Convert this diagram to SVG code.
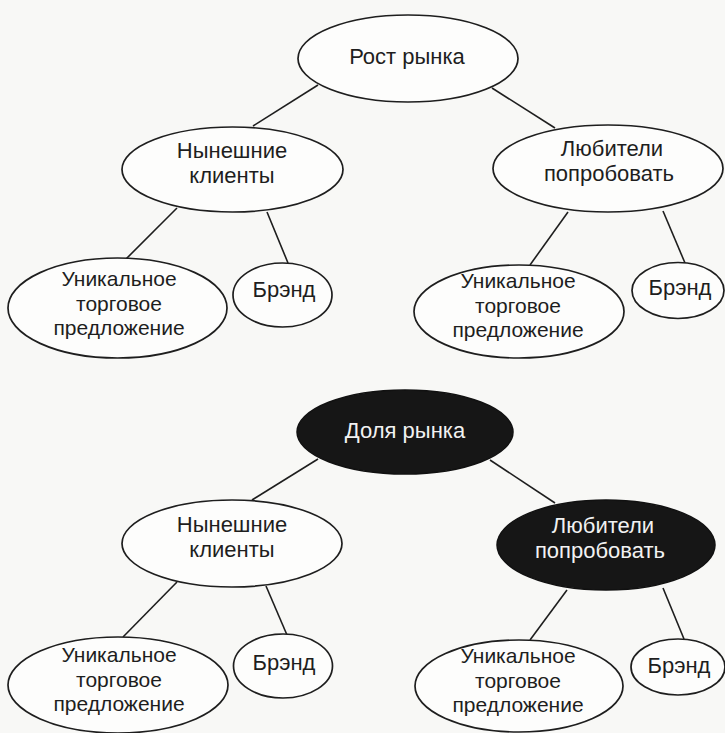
<svg xmlns="http://www.w3.org/2000/svg" width="725" height="733" viewBox="0 0 725 733">
<style>
.bg{fill:#f8f8f6}
.n{fill:#fdfdfc;stroke:#1e1e1e;stroke-width:1.7}
.d{fill:#161616;stroke:#111;stroke-width:1.5}
.t{font-family:"Liberation Sans",Arial,sans-serif;font-size:22px;fill:#1e1e1e;text-anchor:middle}
.s{font-size:21px}
.w{fill:#f2f2f2}
.c line{stroke:#1e1e1e;stroke-width:1.6}
</style>
<rect class="bg" x="0" y="0" width="725" height="733"/>
<g class="c" id="connectors">
<line x1="318" y1="85" x2="253" y2="126"/>
<line x1="492" y1="88" x2="555" y2="128"/>
<line x1="177" y1="208" x2="123" y2="262"/>
<line x1="267" y1="212" x2="288" y2="263"/>
<line x1="568" y1="212" x2="530" y2="265"/>
<line x1="663" y1="211" x2="685" y2="263"/>
<line x1="318" y1="459" x2="252" y2="500"/>
<line x1="490" y1="460" x2="555" y2="503"/>
<line x1="177" y1="582" x2="123" y2="637"/>
<line x1="266" y1="586" x2="287" y2="635"/>
<line x1="567" y1="590" x2="530" y2="640"/>
<line x1="663" y1="588" x2="684" y2="639"/>
</g>
<g id="rost">
<ellipse class="n" cx="408" cy="58.5" rx="110" ry="43.5"/>
<text class="t" x="407" y="64">Рост рынка</text>
</g>
<g id="clients1">
<ellipse class="n" cx="232.5" cy="169.5" rx="110.5" ry="42.5"/>
<text class="t" x="232" y="158">Нынешние</text>
<text class="t" x="232" y="183">клиенты</text>
</g>
<g id="triers1">
<ellipse class="n" cx="608" cy="168.5" rx="115" ry="43.5"/>
<text class="t" x="612" y="156">Любители</text>
<text class="t" x="609" y="181">попробовать</text>
</g>
<g id="usp1">
<ellipse class="n" cx="117.5" cy="308" rx="109.5" ry="50"/>
<text class="t s" x="119" y="286">Уникальное</text>
<text class="t s" x="119" y="310.5">торговое</text>
<text class="t s" x="119" y="335">предложение</text>
</g>
<g id="brand1">
<ellipse class="n" cx="282.5" cy="295" rx="49.5" ry="32"/>
<text class="t" x="284" y="297">Брэнд</text>
</g>
<g id="usp2">
<ellipse class="n" cx="519" cy="311.5" rx="105" ry="46.5"/>
<text class="t s" x="518" y="288">Уникальное</text>
<text class="t s" x="518" y="312.5">торговое</text>
<text class="t s" x="518" y="337">предложение</text>
</g>
<g id="brand2">
<ellipse class="n" cx="678" cy="290.5" rx="46" ry="28"/>
<text class="t" x="680" y="295">Брэнд</text>
</g>
<g id="share">
<ellipse class="d" cx="405" cy="432" rx="108" ry="42"/>
<text class="t w" x="405" y="438">Доля рынка</text>
</g>
<g id="clients2">
<ellipse class="n" cx="232" cy="543.5" rx="110" ry="43.5"/>
<text class="t" x="232" y="532">Нынешние</text>
<text class="t" x="232" y="557">клиенты</text>
</g>
<g id="triers2">
<ellipse class="d" cx="606" cy="545" rx="109" ry="45"/>
<text class="t w" x="603" y="533">Любители</text>
<text class="t w" x="600" y="558">попробовать</text>
</g>
<g id="usp3">
<ellipse class="n" cx="118" cy="685" rx="110" ry="48"/>
<text class="t s" x="119" y="662">Уникальное</text>
<text class="t s" x="119" y="686.5">торговое</text>
<text class="t s" x="119" y="711">предложение</text>
</g>
<g id="brand3">
<ellipse class="n" cx="283" cy="666" rx="49.5" ry="32"/>
<text class="t" x="284" y="670">Брэнд</text>
</g>
<g id="usp4">
<ellipse class="n" cx="519" cy="686" rx="104" ry="46"/>
<text class="t s" x="518" y="663">Уникальное</text>
<text class="t s" x="518" y="687.5">торговое</text>
<text class="t s" x="518" y="712">предложение</text>
</g>
<g id="brand4">
<ellipse class="n" cx="678" cy="667" rx="47" ry="28"/>
<text class="t" x="679" y="673">Брэнд</text>
</g>
</svg>
